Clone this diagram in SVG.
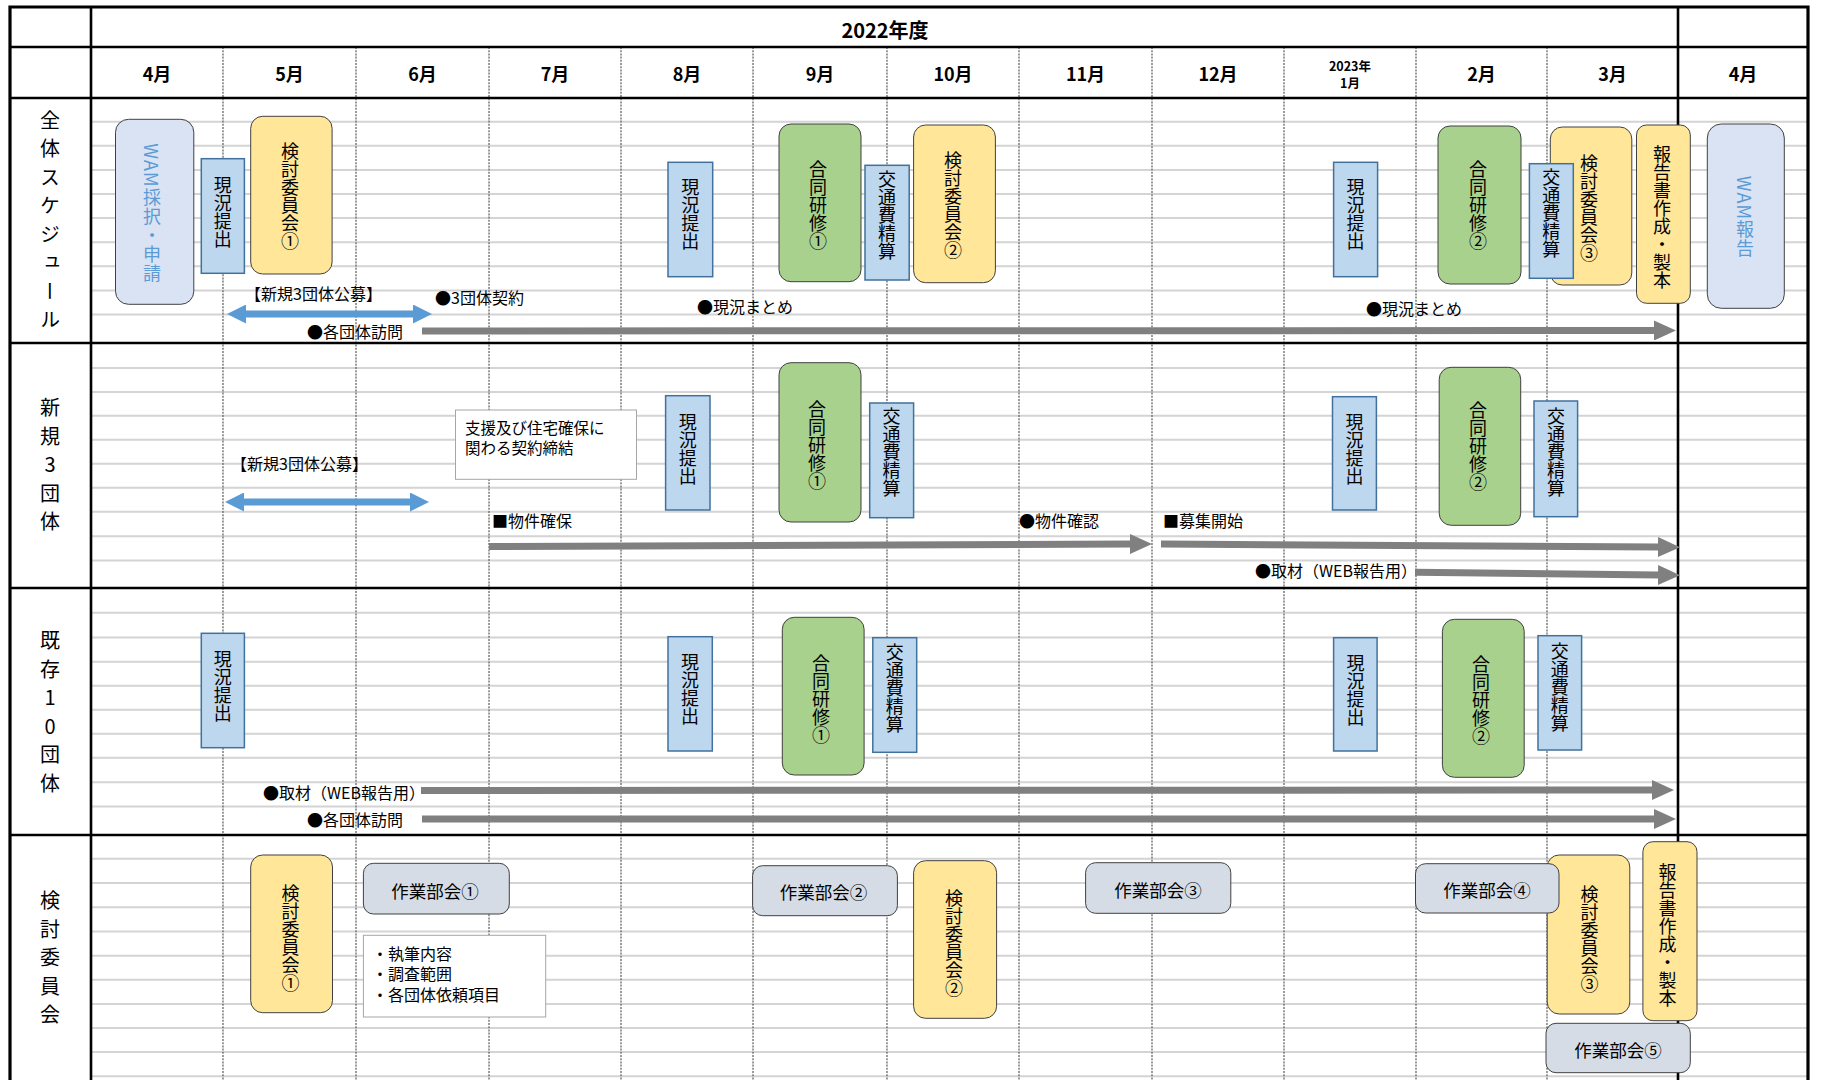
<svg xmlns="http://www.w3.org/2000/svg" width="1824" height="1080" viewBox="0 0 1824 1080">
<style>
text{font-family:"Noto Sans CJK JP","Noto Sans CJK SC",sans-serif;fill:#000}
.grid{stroke:#d4d4d4;stroke-width:2}
.vd{stroke:#666;stroke-width:1.3;stroke-dasharray:2 1.2}
.fr{stroke:#000;stroke-width:2.6}
.blue{fill:#bdd7ee;stroke:#41719c;stroke-width:1.5}
.yel{fill:#ffe699;stroke:#404040;stroke-width:1}
.grn{fill:#a9d18e;stroke:#404040;stroke-width:1}
.wam{fill:#dae3f3;stroke:#404040;stroke-width:1}
.wg{fill:#d6dce5;stroke:#404040;stroke-width:1}
.note{fill:#fff;stroke:#a6a6a6;stroke-width:1}
.vt{writing-mode:vertical-rl;font-size:18px;text-anchor:middle}
.vw{writing-mode:vertical-rl;font-size:18px;text-anchor:middle;fill:#5b9bd5;letter-spacing:1px}
.sec{writing-mode:vertical-rl;text-orientation:upright;font-size:20px;text-anchor:middle;letter-spacing:8.5px}
.lb{font-size:16px;dominant-baseline:central}
.nt{font-size:15.5px;dominant-baseline:central}
.wt{font-size:17.5px;text-anchor:middle;dominant-baseline:central}
.mo{font-size:18px;font-weight:bold;text-anchor:middle;dominant-baseline:central}
.ga{stroke:#808080;stroke-width:7;fill:none}
.ba{stroke:#5b9bd5;stroke-width:7;fill:none}
</style>
<defs>
<marker id="gh" markerUnits="userSpaceOnUse" markerWidth="22" markerHeight="20" refX="1" refY="10" orient="auto"><path d="M0,0 L22,10 L0,20 z" fill="#808080"/></marker>
<marker id="bh" markerUnits="userSpaceOnUse" markerWidth="19" markerHeight="19" refX="1" refY="9.5" orient="auto-start-reverse"><path d="M0,0 L19,9.5 L0,19 z" fill="#5b9bd5"/></marker>
</defs>
<rect width="1824" height="1080" fill="#fff"/>
<g id="grid">
<g class="grid">
<path d="M91,121.7H1808M91,145.8H1808M91,169.9H1808M91,194H1808M91,218.1H1808M91,242.2H1808M91,266.3H1808M91,290.4H1808M91,314.5H1808"/>
<path d="M91,368H1808M91,391.9H1808M91,415.8H1808M91,439.8H1808M91,463.8H1808M91,487.8H1808M91,511.8H1808M91,536.2H1808M91,560.5H1808"/>
<path d="M91,612.7H1808M91,637.5H1808M91,661.7H1808M91,685.7H1808M91,709.7H1808M91,733.7H1808M91,757.8H1808M91,782.2H1808M91,806.6H1808"/>
<path d="M91,858.7H1808M91,882.9H1808M91,907.2H1808M91,931.5H1808M91,955.7H1808M91,979.8H1808M91,1003.9H1808M91,1028H1808M91,1052.1H1808M91,1076.2H1808"/>
</g>
<path class="vd" d="M223,47V1080M356,47V1080M489,47V1080M621,47V1080M753,47V1080M887,47V1080M1019,47V1080M1152,47V1080M1284,47V1080M1416,47V1080M1547,47V1080"/>
<path class="fr" d="M91,7V1080M1678,7V1080M10,47H1808M10,98H1808M10,343H1808M10,588H1808M10,835H1808"/>
<path stroke="#000" stroke-width="3.2" fill="none" d="M10,1080V7H1808V1080"/>
</g>
<g id="header">
<text x="885" y="29" font-size="20" font-weight="bold" text-anchor="middle" dominant-baseline="central">2022年度</text>
<text class="mo" x="157" y="73">4月</text>
<text class="mo" x="289.5" y="73">5月</text>
<text class="mo" x="422.5" y="73">6月</text>
<text class="mo" x="555" y="73">7月</text>
<text class="mo" x="687" y="73">8月</text>
<text class="mo" x="820" y="73">9月</text>
<text class="mo" x="953" y="73">10月</text>
<text class="mo" x="1085.5" y="73">11月</text>
<text class="mo" x="1218" y="73">12月</text>
<text x="1350" y="65" font-size="12.5" font-weight="bold" text-anchor="middle" dominant-baseline="central">2023年</text>
<text x="1350" y="82" font-size="12.5" font-weight="bold" text-anchor="middle" dominant-baseline="central">1月</text>
<text class="mo" x="1481.5" y="73">2月</text>
<text class="mo" x="1612.5" y="73">3月</text>
<text class="mo" x="1743" y="73">4月</text>
</g>
<g id="section-labels">
<text class="sec" x="50" y="224">全体スケジュール</text>
<text class="sec" x="50" y="469">新規3団体</text>
<text class="sec" x="50" y="716">既存10団体</text>
<text class="sec" x="50" y="962">検討委員会</text>
</g>
<g id="connectors">
<line class="ba" x1="245" y1="314" x2="414" y2="314" marker-start="url(#bh)" marker-end="url(#bh)"/>
<line class="ga" x1="422" y1="331" x2="1655" y2="330.5" marker-end="url(#gh)"/>
<line class="ba" x1="243" y1="502" x2="411" y2="502" marker-start="url(#bh)" marker-end="url(#bh)"/>
<line class="ga" x1="489" y1="546.5" x2="1131" y2="544" marker-end="url(#gh)"/>
<line class="ga" x1="1161" y1="544" x2="1659" y2="547" marker-end="url(#gh)"/>
<line class="ga" x1="1415" y1="572.3" x2="1659" y2="575" marker-end="url(#gh)"/>
<line class="ga" x1="421" y1="790.5" x2="1653" y2="790" marker-end="url(#gh)"/>
<line class="ga" x1="422" y1="819" x2="1655" y2="819" marker-end="url(#gh)"/>
</g>
<g id="labels">
<text class="lb" x="245" y="293">【新規3団体公募】</text>
<text class="lb" x="435" y="297">●3団体契約</text>
<text class="lb" x="307" y="331">●各団体訪問</text>
<text class="lb" x="697" y="306">●現況まとめ</text>
<text class="lb" x="1366" y="308">●現況まとめ</text>
<text class="lb" x="231" y="463">【新規3団体公募】</text>
<text class="lb" x="492" y="520">■物件確保</text>
<text class="lb" x="1019" y="520">●物件確認</text>
<text class="lb" x="1163" y="520">■募集開始</text>
<text class="lb" x="1255" y="570">●取材（WEB報告用）</text>
<text class="lb" x="263" y="792">●取材（WEB報告用）</text>
<text class="lb" x="307" y="819">●各団体訪問</text>
</g>
<g id="n-wam1"><rect class="wam" x="115.5" y="119.3" width="78.3" height="185" rx="13"/><text class="vw" x="152" y="213">WAM採択・申請</text></g>
<g id="n-s1-genkyo1"><rect class="blue" x="201.3" y="158.7" width="43.1" height="114.6"/><text class="vt" x="222.8" y="212">現況提出</text></g>
<g id="n-s1-kento1"><rect class="yel" x="250.7" y="116.3" width="81.4" height="157.7" rx="12"/><text class="vt" x="290" y="196">検討委員会①</text></g>
<g id="n-s1-genkyo2"><rect class="blue" x="668" y="162.3" width="44.7" height="114.4"/><text class="vt" x="690.3" y="214">現況提出</text></g>
<g id="n-s1-godo1"><rect class="grn" x="779" y="124" width="82" height="157.7" rx="12"/><text class="vt" x="818" y="205">合同研修①</text></g>
<g id="n-s1-kotsu1"><rect class="blue" x="865" y="165.3" width="44.2" height="114.7"/><text class="vt" x="887" y="215">交通費精算</text></g>
<g id="n-s1-kento2"><rect class="yel" x="913.6" y="125" width="81.8" height="157.7" rx="12"/><text class="vt" x="953" y="205">検討委員会②</text></g>
<g id="n-s1-genkyo3"><rect class="blue" x="1333.6" y="162.3" width="44" height="114.4"/><text class="vt" x="1355.6" y="214">現況提出</text></g>
<g id="n-s1-godo2"><rect class="grn" x="1438" y="126" width="83" height="158" rx="12"/><text class="vt" x="1478" y="205">合同研修②</text></g>
<g id="n-s1-kento3"><rect class="yel" x="1550.3" y="127" width="81.5" height="158" rx="12"/><text class="vt" x="1589" y="208">検討委員会③</text></g>
<g id="n-s1-kotsu2"><rect class="blue" x="1529.4" y="163.7" width="43.9" height="114.6"/><text class="vt" x="1551.3" y="213">交通費精算</text></g>
<g id="n-s1-hokoku"><rect class="yel" x="1636.5" y="125" width="53.8" height="178.3" rx="10"/><text class="vt" x="1662" y="217">報告書作成・製本</text></g>
<g id="n-wam2"><rect class="wam" x="1707.3" y="124" width="77" height="184.3" rx="14"/><text class="vw" x="1745" y="217">WAM報告</text></g>
<g id="n-s2-callout"><rect class="note" x="455.5" y="410" width="181" height="69.3"/><text class="nt" x="465" y="427">支援及び住宅確保に</text><text class="nt" x="465" y="447">関わる契約締結</text></g>
<g id="n-s2-genkyo1"><rect class="blue" x="665.6" y="395.7" width="44.4" height="114.3"/><text class="vt" x="687.8" y="449">現況提出</text></g>
<g id="n-s2-godo1"><rect class="grn" x="779" y="362.7" width="82" height="159.3" rx="12"/><text class="vt" x="817" y="445">合同研修①</text></g>
<g id="n-s2-kotsu1"><rect class="blue" x="869.7" y="403" width="43.9" height="114.7"/><text class="vt" x="891.6" y="452">交通費精算</text></g>
<g id="n-s2-genkyo2"><rect class="blue" x="1332.5" y="396.7" width="43.9" height="113.3"/><text class="vt" x="1354.5" y="449">現況提出</text></g>
<g id="n-s2-godo2"><rect class="grn" x="1439.2" y="367.3" width="81.5" height="158" rx="12"/><text class="vt" x="1478" y="446">合同研修②</text></g>
<g id="n-s2-kotsu2"><rect class="blue" x="1534" y="401" width="43.6" height="115.7"/><text class="vt" x="1556" y="452">交通費精算</text></g>
<g id="n-s3-genkyo1"><rect class="blue" x="201.3" y="633.3" width="43.1" height="114.4"/><text class="vt" x="222.8" y="686">現況提出</text></g>
<g id="n-s3-genkyo2"><rect class="blue" x="668" y="636.7" width="44.3" height="114.3"/><text class="vt" x="690" y="689">現況提出</text></g>
<g id="n-s3-godo1"><rect class="grn" x="782.3" y="617.3" width="81.8" height="157.7" rx="12"/><text class="vt" x="821" y="699">合同研修①</text></g>
<g id="n-s3-kotsu1"><rect class="blue" x="872.8" y="637.7" width="43.9" height="114.6"/><text class="vt" x="894.7" y="688">交通費精算</text></g>
<g id="n-s3-genkyo3"><rect class="blue" x="1333.6" y="637.7" width="43.5" height="113.3"/><text class="vt" x="1355.4" y="690">現況提出</text></g>
<g id="n-s3-godo2"><rect class="grn" x="1442.4" y="619.3" width="81.8" height="158" rx="12"/><text class="vt" x="1481" y="700">合同研修②</text></g>
<g id="n-s3-kotsu2"><rect class="blue" x="1538" y="635.7" width="43.6" height="114.3"/><text class="vt" x="1559.8" y="687">交通費精算</text></g>
<g id="n-s4-kento1"><rect class="yel" x="250.7" y="855" width="81.8" height="157.7" rx="12"/><text class="vt" x="290.5" y="938.5">検討委員会①</text></g>
<g id="n-s4-sagyo1"><rect class="wg" x="363.4" y="863.3" width="145.9" height="50.7" rx="10"/><text class="wt" x="435" y="890">作業部会①</text></g>
<g id="n-s4-bullets"><rect class="note" x="363.4" y="935.3" width="182.3" height="81.7"/><text class="lb" x="372" y="952.7">・執筆内容</text><text class="lb" x="372" y="973.3">・調査範囲</text><text class="lb" x="372" y="994">・各団体依頼項目</text></g>
<g id="n-s4-sagyo2"><rect class="wg" x="752.6" y="865.7" width="144.8" height="50" rx="10"/><text class="wt" x="823.4" y="891.5">作業部会②</text></g>
<g id="n-s4-kento2"><rect class="yel" x="913.6" y="860.7" width="83" height="157.6" rx="12"/><text class="vt" x="954" y="943">検討委員会②</text></g>
<g id="n-s4-sagyo3"><rect class="wg" x="1085.6" y="862.7" width="145.2" height="50.6" rx="10"/><text class="wt" x="1158" y="889">作業部会③</text></g>
<g id="n-s4-kento3"><rect class="yel" x="1547.2" y="855" width="82.6" height="159" rx="12"/><text class="vt" x="1589.5" y="939">検討委員会③</text></g>
<g id="n-s4-sagyo4"><rect class="wg" x="1415.5" y="863.7" width="143.5" height="49.3" rx="10"/><text class="wt" x="1487" y="889">作業部会④</text></g>
<g id="n-s4-hokoku"><rect class="yel" x="1642.9" y="841.7" width="54.1" height="179" rx="10"/><text class="vt" x="1667.4" y="935">報告書作成・製本</text></g>
<g id="n-s4-sagyo5"><rect class="wg" x="1546" y="1023.3" width="144.3" height="49.4" rx="10"/><text class="wt" x="1618" y="1049">作業部会⑤</text></g>
</svg>
